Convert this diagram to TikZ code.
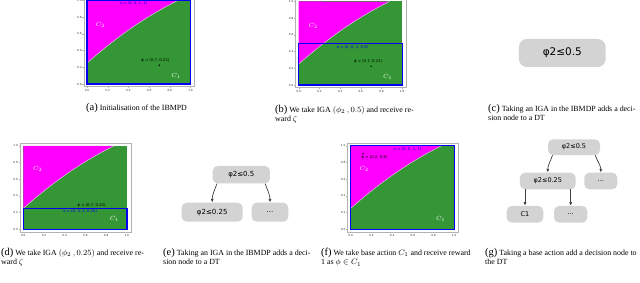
\documentclass[tikz,border=0pt]{standalone}
\usepackage{fontspec}
\setmainfont{Liberation Serif}
\newfontfamily\treefont{DejaVu Sans}
\newfontfamily\plotfont{DejaVu Sans}
\usetikzlibrary{arrows.meta, calc}
\definecolor{PlotGreen}{RGB}{52, 150, 52}
\definecolor{PlotMagenta}{RGB}{255, 0, 255}
\definecolor{ObsBlue}{RGB}{0, 0, 245}
\definecolor{NodeGray}{RGB}{211, 211, 211}
\definecolor{ArrowGray}{RGB}{64, 64, 64}

\tikzset{
  treenode/.style={rounded corners=5pt, fill=NodeGray, inner sep=0pt, font=\treefont\fontsize{7}{7}\selectfont},
  treearrow/.style={-{Latex[length=3.5pt,width=3pt]}, ArrowGray, line width=0.7pt},
  subcaption/.style={anchor=north west, align=left, inner sep=0pt, font=\fontsize{7.9}{9.5}\selectfont},
  obsbox/.style={ObsBlue, line width=1.4pt},
  obslabel/.style={ObsBlue, inner sep=0pt, font=\plotfont\fontsize{3.8}{4}\selectfont},
  philabel/.style={black, inner sep=0pt, font=\plotfont\fontsize{3.8}{4}\selectfont},
  classlabel/.style={white, inner sep=0pt, font=\fontsize{6}{6}\selectfont},
  ticklabel/.style={inner sep=0pt, font=\plotfont\fontsize{2.8}{3}\selectfont, text=black!80}
}
\newcommand{\panelletter}[1]{{\fontsize{10.5}{10.5}\selectfont (#1)}}

% the two class regions of the state space, in data units
\newcommand{\regionplot}{%
  \draw[gray!60, line width=0.3pt] (-0.03,-0.03) rectangle (1.04,1.03);
  \fill[PlotGreen] (0,0) rectangle (1,1);
  \fill[PlotMagenta] plot[domain=0:0.878, samples=25] (\x,{0.25+1.1*\x-0.28*\x*\x}) -- (0,1) -- cycle;
  \draw[white!75!gray, line width=0.4pt] plot[domain=0:0.878, samples=25] (\x,{0.25+1.1*\x-0.28*\x*\x});
  \foreach \t [count=\i] in {0.0,0.2,0.4,0.6,0.8,1.0} {
    \draw[gray!60, line width=0.3pt] (-0.03,\t) -- ++(-0.015,0);
    \draw[gray!60, line width=0.3pt] (\t,-0.03) -- ++(0,-0.02);
    \node[ticklabel, anchor=east] (ytick\i) at (-0.05,\t) {\t};
    \node[ticklabel, anchor=north] (xtick\i) at (\t,-0.06) {\t};
  }%
}

\begin{document}
\begin{tikzpicture}[x=1pt, y=-1pt]
\useasboundingbox (0,0) rectangle (640,283);

% (a) initial observation
\begin{scope}[xshift=87pt, yshift=-84pt, x=103.5pt, y=83.5pt]
  \regionplot
  \draw[obsbox] (0,0) rectangle (1,1);
  \node[obslabel] (obsa) at (0.45,0.965) {o = (0, 0, 1, 1)};
  \node[classlabel] (c2a) at (0.13,0.71) {$C_2$};
  \node[philabel] (phia) at (0.66,0.28) {ϕ = (0.7, 0.23)};
  \fill (0.7,0.225) circle (0.8pt);
  \node[classlabel] (c1a) at (0.86,0.10) {$C_1$};
\end{scope}

% (b) IGA on phi2 at 0.5
\begin{scope}[xshift=298.7pt, yshift=-85pt, x=103.5pt, y=83.5pt]
  \regionplot
  \draw[obsbox] (0,0) rectangle (1,0.5);
  \node[obslabel] (obsb) at (0.52,0.45) {o = (0, 0, 1, 0.5)};
  \node[classlabel] (c2b) at (0.14,0.71) {$C_2$};
  \node[philabel] (phib) at (0.67,0.28) {ϕ = (0.7, 0.23)};
  \fill (0.7,0.225) circle (0.8pt);
  \node[classlabel] (c1b) at (0.86,0.10) {$C_1$};
\end{scope}

% (d) IGA on phi2 at 0.25
\begin{scope}[xshift=23.3pt, yshift=-229.3pt, x=103.5pt, y=83.5pt]
  \regionplot
  \draw[obsbox] (0,0) rectangle (1,0.25);
  \node[obslabel] (obsd) at (0.55,0.21) {o = (0, 0, 1, 0.25)};
  \node[classlabel] (c2d) at (0.14,0.72) {$C_2$};
  \node[philabel] (phid) at (0.66,0.29) {ϕ = (0.7, 0.23)};
  \node[classlabel] (c1d) at (0.88,0.12) {$C_1$};
\end{scope}

% (f) base action
\begin{scope}[xshift=350.7pt, yshift=-229.3pt, x=103.5pt, y=83.5pt]
  \regionplot
  \draw[obsbox] (0,0) rectangle (1,1);
  \node[obslabel] (obsf) at (0.55,0.96) {o = (0, 0, 1, 1)};
  \fill (0.12,0.905) circle (0.8pt);
  \node[philabel] (phif) at (0.23,0.855) {ϕ = (0.2, 0.9)};
  \node[classlabel] (c2f) at (0.13,0.72) {$C_2$};
  \node[classlabel] (c1f) at (0.87,0.12) {$C_1$};
\end{scope}

% (c) single decision node
\node[treenode, rounded corners=8pt, minimum width=86.7pt, minimum height=28pt,
      font=\treefont\fontsize{10.5}{10.5}\selectfont] (croot) at (562.3,53) {φ2≤0.5};

% (e) tree after second IGA
\node[treenode, minimum width=57.3pt, minimum height=17.5pt] (eroot) at (241.3,174.7) {φ2≤0.5};
\node[treenode, minimum width=61pt, minimum height=19pt] (eleft) at (212.2,212.2) {φ2≤0.25};
\node[treenode, minimum width=36.6pt, minimum height=19pt] (eright) at (270,212.2) {...};
\draw[treearrow] ([xshift=4.5pt]eroot.south west) to[out=-110, in=90] (eleft.north);
\draw[treearrow] ([xshift=-5pt]eroot.south east) to[out=-70, in=90] (eright.north);

% (g) tree after base action
\tikzset{treenode/.append style={font=\treefont\fontsize{6.5}{6.5}\selectfont}}
\node[treenode, minimum width=52pt, minimum height=15.7pt] (groot) at (574,147.2) {φ2≤0.5};
\node[treenode, minimum width=55.7pt, minimum height=16.6pt] (gleft) at (547.8,181) {φ2≤0.25};
\node[treenode, minimum width=33pt, minimum height=16.6pt] (gright) at (600.8,181) {...};
\node[treenode, minimum width=36.6pt, minimum height=16.7pt] (gc1) at (525,214.3) {C1};
\node[treenode, minimum width=33.3pt, minimum height=16.7pt] (gdots) at (570.7,214.3) {...};
\draw[treearrow] ([xshift=4.7pt]groot.south west) to[out=-110, in=90] (gleft.north);
\draw[treearrow] ([xshift=-5pt]groot.south east) to[out=-70, in=90] (gright.north);
\draw[treearrow] (gc1.north |- gleft.south) -- (gc1.north);
\draw[treearrow] (gdots.north |- gleft.south) -- (gdots.north);

% sub-captions
\node[subcaption] (capa) at (86,102.8) {\panelletter{a} Initialisation of the IBMPD};
\node[subcaption] (capb) at (275,104.8) {\panelletter{b} We take IGA $(\phi_2\,, 0.5)$ and receive re-\\ward $\zeta$};
\node[subcaption] (capc) at (488,103.8) {\panelletter{c} Taking an IGA in the IBMDP adds a deci-\\sion node to a DT};
\node[subcaption] (capd) at (1,247.8) {\panelletter{d} We take IGA $(\phi_2\,, 0.25)$ and receive re-\\ward $\zeta$};
\node[subcaption] (cape) at (163,247.8) {\panelletter{e} Taking an IGA in the IBMDP adds a deci-\\sion node to a DT};
\node[subcaption] (capf) at (321,247.8) {\panelletter{f} We take base action $C_1$ and receive reward\\1 as $\phi\in C_1$};
\node[subcaption] (capg) at (485,247.8) {\panelletter{g} Taking a base action add a decision node to\\the DT};

\end{tikzpicture}
\end{document}
